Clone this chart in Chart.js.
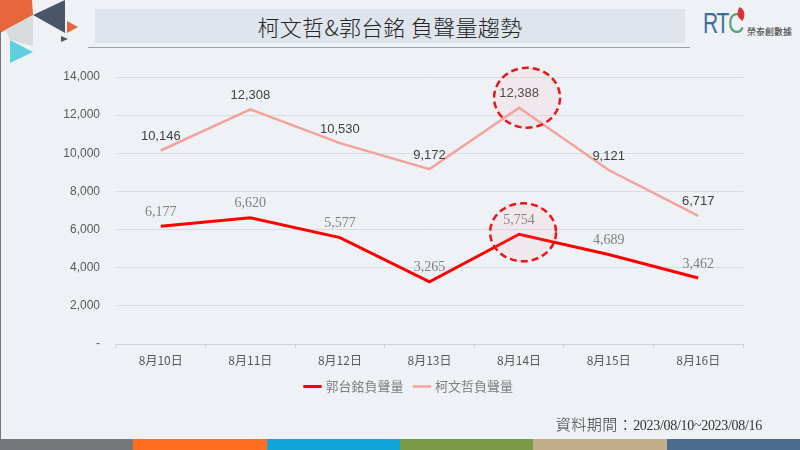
<!DOCTYPE html>
<html>
<head>
<meta charset="utf-8">
<script src="https://cdn.jsdelivr.net/npm/chart.js@4.4.0/dist/chart.umd.min.js"></script>
<style>
  html,body{margin:0;padding:0;}
  body{width:800px;height:450px;background:#eef2f6;position:relative;overflow:hidden;font-family:"Noto Sans CJK TC","Noto Sans",sans-serif;}
  #wrap{position:absolute;left:0;top:0;width:800px;height:450px;}
  #titlebox{position:absolute;left:95px;top:9px;width:590px;height:34px;background:#dfe5ec;}
  #title{position:absolute;left:95px;top:9px;width:590px;height:34px;line-height:34px;text-align:center;font-size:22px;color:#262626;font-family:"Noto Sans CJK TC",sans-serif;font-weight:300;letter-spacing:0.3px;}
  #uline{position:absolute;left:88px;top:47px;width:602px;height:1px;background:#9aa0a8;}
  #footer{position:absolute;right:38px;top:413px;font-size:14px;color:#333;font-family:"Liberation Serif","Noto Sans CJK TC",serif;letter-spacing:-0.3px;white-space:nowrap;}
  #footer .zh{font-size:15px;letter-spacing:0.5px;font-family:"Noto Sans CJK TC",sans-serif;font-weight:300;}
  .bar{position:absolute;top:439px;height:11px;}
  #logo{position:absolute;left:703px;top:6px;width:97px;height:36px;}
  #logo .rt{position:absolute;left:0;top:0;font-size:30px;line-height:34px;font-family:"Liberation Sans",sans-serif;color:#3c6e9c;transform:scaleX(0.7);transform-origin:left top;letter-spacing:-2px;}
  #logo .c{position:absolute;left:25px;top:0;font-size:30px;line-height:34px;font-family:"Liberation Sans",sans-serif;color:#5aa37c;transform:scaleX(0.75);transform-origin:left top;}
  #logo .leaf{position:absolute;left:34px;top:2px;width:8px;height:12px;background:#d9323a;border-radius:0 8px 0 8px;transform:rotate(20deg);}
  #logo .zh{position:absolute;left:44px;top:21px;font-size:9px;line-height:10px;color:#333;font-family:"Noto Sans CJK TC",sans-serif;white-space:nowrap;}
  #leftline{position:absolute;left:0;top:30px;width:1px;height:409px;background:#777;}
</style>
</head>
<body>
<svg style="position:absolute;left:0;top:0" width="90" height="70">
  <polygon points="0,0 32,0 33,15 0,33" fill="#e8673a"/>
  <polygon points="33,15 65,0 65,33" fill="#4a5568"/>
  <polygon points="5,30 33,15 33,46 10,40" fill="#d9dadc"/>
  <polygon points="10,40 33,52 10,63" fill="#5fd0de"/>
  <polygon points="67,21 78,27 67,33" fill="#e8673a"/>
  <polygon points="61,36 68,39 61,42" fill="#555"/>
</svg>
<div id="leftline"></div>
<div id="titlebox"></div>
<div id="title">柯文哲&amp;郭台銘 負聲量趨勢</div>
<div id="uline"></div>
<div id="logo"><span class="rt">RT</span><span class="c">C</span><span class="leaf"></span><span class="zh">榮泰創數據</span></div>
<div id="wrap"><canvas id="c" width="800" height="450"></canvas></div>
<div id="footer"><span class="zh">資料期間：</span>2023/08/10~2023/08/16</div>
<div class="bar" style="left:0;width:134px;background:#77787b"></div>
<div class="bar" style="left:133px;width:134px;background:#fd6c1f"></div>
<div class="bar" style="left:267px;width:134px;background:#0fa5d9"></div>
<div class="bar" style="left:400px;width:134px;background:#7a9a4a"></div>
<div class="bar" style="left:533px;width:134px;background:#c3ae8c"></div>
<div class="bar" style="left:667px;width:133px;background:#4d6a8f"></div>
<script>
const categories = ["8月10日","8月11日","8月12日","8月13日","8月14日","8月15日","8月16日"];
const guoValues = [6177, 6620, 5577, 3265, 5754, 4689, 3462];
const koValues = [10146, 12308, 10530, 9172, 12388, 9121, 6717];
const seriesNames = ["郭台銘負聲量", "柯文哲負聲量"];
const yTicks = [0, 2000, 4000, 6000, 8000, 10000, 12000, 14000];
const highlightIndex = 4;

const labelPlugin = {
  id: 'valueLabels',
  afterDatasetsDraw(chart) {
    const ctx = chart.ctx;
    ctx.save();
    chart.data.datasets.forEach((ds, di) => {
      const meta = chart.getDatasetMeta(di);
      meta.data.forEach((pt, i) => {
        const v = ds.data[i];
        if (di === 0) {
          ctx.font = '14px "Liberation Serif", serif';
          ctx.fillStyle = '#7f7f7f';
        } else {
          ctx.font = '13px "Liberation Sans", "DejaVu Sans", sans-serif';
          ctx.fillStyle = '#404040';
        }
        ctx.textAlign = 'center';
        ctx.textBaseline = 'middle';
        ctx.fillText(v.toLocaleString('en-US'), pt.x, pt.y - 14);
      });
    });
    ctx.restore();
  }
};

const circlePlugin = {
  id: 'circles',
  afterDatasetsDraw(chart) {
    const ctx = chart.ctx;
    const specs = [
      {di: 1, dx: 8, dy: -10, rx: 33, ry: 30},
      {di: 0, dx: 4, dy: -2, rx: 33, ry: 29}
    ];
    ctx.save();
    specs.forEach(s => {
      const pt = chart.getDatasetMeta(s.di).data[highlightIndex];
      ctx.beginPath();
      ctx.ellipse(pt.x + s.dx, pt.y + s.dy, s.rx, s.ry, 0, 0, Math.PI * 2);
      ctx.fillStyle = 'rgba(255,160,160,0.10)';
      ctx.fill();
      ctx.setLineDash([7, 4]);
      ctx.lineWidth = 2.5;
      ctx.strokeStyle = '#e8161b';
      ctx.stroke();
    });
    ctx.restore();
  }
};

const legendShift = {
  id: 'legendShift',
  afterLayout(chart) {
    const lg = chart.legend;
    if (!lg) return;
    lg.left += 76;
    lg.right += 0;
    lg.width = lg.right - lg.left;
    if (lg.adjustHitBoxes) lg.adjustHitBoxes();
  }
};

new Chart(document.getElementById('c'), {
  type: 'line',
  data: {
    labels: categories,
    datasets: [
      {label: seriesNames[0], data: guoValues, borderColor: '#ff0000', backgroundColor: '#ff0000', borderWidth: 3, pointRadius: 0, tension: 0},
      {label: seriesNames[1], data: koValues, borderColor: '#f5a29b', backgroundColor: '#f5a29b', borderWidth: 2.5, pointRadius: 0, tension: 0}
    ]
  },
  options: {
    responsive: false,
    animation: false,
    devicePixelRatio: 1,
    layout: {padding: {left: 0, right: 57, top: 77, bottom: 47}},
    plugins: {
      legend: {
        position: 'bottom',
        labels: {
          usePointStyle: true,
          pointStyle: 'line',
          boxWidth: 20,
          padding: 12,
          color: '#7f7f7f',
          font: {size: 13, family: '"Noto Sans CJK TC", sans-serif'}
        }
      },
      tooltip: {enabled: false}
    },
    scales: {
      x: {
        offset: true,
        grid: {offset: true, drawOnChartArea: false, drawTicks: true, tickLength: 4, color: '#d0d4d8'},
        border: {display: true, color: '#d0d4d8'},
        ticks: {color: '#595959', font: {size: 12, family: '"Noto Sans CJK TC", sans-serif'}, padding: 5, maxRotation: 0},
        afterFit(s) { s.height = 24; }
      },
      y: {
        min: 0, max: 14000,
        afterBuildTicks(s) { s.ticks = yTicks.map(v => ({value: v})); },
        grid: {color: '#d9dde2', drawTicks: false},
        border: {display: false},
        ticks: {
          color: '#595959',
          padding: 16,
          font: {size: 12, family: '"Liberation Sans", "DejaVu Sans", sans-serif'},
          callback: v => v === 0 ? '-' : v.toLocaleString('en-US')
        },
        afterFit(s) { s.width = 116; }
      }
    }
  },
  plugins: [labelPlugin, circlePlugin, legendShift]
});
</script>
</body>
</html>
